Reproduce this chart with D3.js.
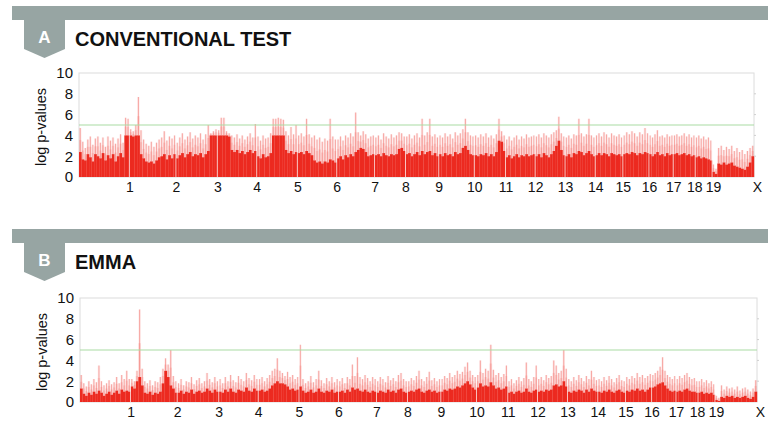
<!DOCTYPE html>
<html>
<head>
<meta charset="utf-8">
<script src="https://cdn.jsdelivr.net/npm/d3@7"></script>
<style>
  body { margin: 0; background: #fff; }
  svg { display: block; font-family: "Liberation Sans", Arial, sans-serif; }
</style>
</head>
<body>
<svg id="chart" width="768" height="421"></svg>
<script>
// chromosomes and their (approximate) lengths in Mb, read off label positions
const chromosomes = ["1","2","3","4","5","6","7","8","9","10","11","12","13","14","15","16","17","18","19","X"];
const chromLength = [197, 182, 162, 154, 159, 154, 148, 121, 130, 139, 122, 116, 117, 118, 108, 102, 95, 86, 66, 164];

const yTicks = [0, 2, 4, 6, 8, 10];
const threshold = 5;

// conventional test: highest -log p in each bin, and top of the dense block
const convPeak = [
  [4.7, 3.4, 2.8, 3.6, 3.9, 3.1, 3.7, 3.9, 3.3, 3.8, 2.9, 3.9, 3.5, 3.8, 3.2, 3.7, 4.1, 3.3, 5.7, 5.6],
  [4.6, 4.4, 5.0, 7.7, 4.5, 3.6, 3.2, 3.0, 3.4, 2.9, 3.3, 3.6, 3.8, 4.4, 3.5, 3.9, 3.7, 4.0],
  [3.3, 3.8, 4.2, 3.6, 3.9, 4.3, 3.7, 4.0, 3.8, 4.2, 3.6, 4.1, 5.0, 4.2, 4.4, 4.6],
  [4.5, 5.7, 5.7, 4.4, 4.2, 4.0, 3.8, 4.1, 3.7, 4.0, 3.6, 3.9, 4.2, 3.8, 5.1],
  [3.9, 3.5, 4.0, 3.7, 3.8, 4.2, 5.6, 5.6, 5.7, 5.6, 5.5, 4.4, 4.0, 4.8, 4.1, 5.0],
  [4.0, 4.2, 3.9, 5.6, 4.1, 3.8, 4.0, 3.6, 3.8, 3.4, 3.7, 3.5, 5.6, 3.9, 3.6],
  [3.6, 3.9, 3.5, 4.0, 3.8, 4.2, 3.9, 6.2, 4.3, 4.0, 4.4, 4.1, 3.7, 3.9, 4.0],
  [3.8, 4.0, 3.6, 4.2, 3.9, 3.7, 4.1, 3.8, 4.0, 4.3, 4.2, 3.9],
  [3.9, 4.1, 3.7, 4.0, 4.2, 3.8, 5.6, 4.0, 4.3, 5.6, 3.9, 4.1, 3.8],
  [4.0, 3.8, 4.2, 3.9, 4.1, 3.7, 4.3, 4.0, 4.2, 4.6, 5.6, 4.3, 4.0, 3.9],
  [4.0, 3.8, 4.1, 3.9, 4.2, 3.8, 4.0, 3.7, 4.1, 5.6, 4.4, 4.0],
  [3.6, 3.9, 3.5, 3.8, 4.0, 3.6, 3.9, 3.7, 4.1, 3.8, 3.9, 4.0],
  [3.9, 4.1, 3.8, 4.2, 4.0, 3.8, 4.1, 4.3, 4.5, 5.8, 4.2, 3.9],
  [3.8, 4.0, 3.7, 4.1, 4.0, 5.6, 4.2, 3.9, 4.1, 5.6, 4.0, 3.8],
  [4.0, 4.2, 3.9, 4.3, 4.1, 3.8, 4.2, 4.0, 3.9, 4.1, 3.8],
  [4.0, 4.3, 4.1, 4.4, 4.2, 3.9, 4.3, 4.1, 4.7, 4.2],
  [4.0, 3.8, 4.1, 4.5, 3.9, 4.0, 3.8, 4.1, 3.9, 4.0],
  [4.0, 4.1, 3.9, 4.0, 4.2, 3.9, 4.1, 3.8, 4.0],
  [3.8, 4.0, 3.7, 3.9, 3.6, 3.8, 3.5],
  [1.2, 0.8, 2.8, 3.0, 2.6, 2.9, 2.7, 3.0, 2.5, 2.8, 2.4, 2.6, 2.2, 2.5, 2.8, 3.0]
];
const convBase = [
  [2.4, 1.7, 1.6, 2.2, 1.9, 1.5, 2.2, 2.0, 1.8, 2.3, 1.6, 2.1, 1.8, 2.2, 1.5, 2.0, 2.3, 1.9, 4.0, 4.0],
  [4.0, 3.9, 4.0, 4.0, 2.2, 1.8, 1.5, 1.4, 1.5, 1.3, 1.6, 1.9, 2.0, 2.2, 1.7, 2.1, 1.8, 2.2],
  [1.8, 2.1, 2.3, 1.9, 2.2, 2.4, 2.0, 2.2, 2.1, 2.3, 1.9, 2.2, 2.5, 4.0, 4.0, 4.0],
  [4.0, 4.0, 4.0, 4.0, 3.9, 2.6, 2.4, 2.6, 2.3, 2.5, 2.2, 2.4, 2.6, 2.3, 2.5],
  [2.0, 1.8, 2.2, 1.9, 2.0, 2.3, 4.0, 4.0, 4.0, 4.0, 4.0, 2.6, 2.3, 2.5, 2.2, 2.4],
  [2.3, 2.4, 2.2, 2.5, 2.3, 2.1, 1.6, 1.4, 1.5, 1.3, 1.5, 1.4, 1.7, 1.6, 1.4],
  [1.8, 2.0, 1.7, 2.1, 1.9, 2.2, 2.0, 2.4, 2.6, 2.8, 2.7, 2.4, 2.0, 2.1, 2.2],
  [2.1, 2.2, 2.0, 2.3, 2.1, 2.0, 2.2, 2.1, 2.2, 2.7, 2.8, 2.5],
  [2.2, 2.3, 2.0, 2.2, 2.4, 2.1, 2.5, 2.2, 2.4, 2.5, 2.1, 2.3, 2.0],
  [2.2, 2.0, 2.3, 2.1, 2.2, 2.0, 2.4, 2.2, 2.3, 2.8, 3.0, 2.6, 2.2, 2.1],
  [2.1, 2.0, 2.2, 2.1, 2.3, 2.0, 2.2, 2.0, 2.4, 3.5, 3.4, 2.5],
  [1.9, 2.1, 1.8, 2.0, 2.2, 1.9, 2.1, 2.0, 2.2, 2.0, 2.1, 2.2],
  [2.0, 2.2, 1.9, 2.3, 2.1, 1.9, 2.2, 2.5, 3.0, 3.5, 2.6, 2.1],
  [2.0, 2.2, 1.9, 2.3, 2.2, 2.5, 2.4, 2.1, 2.3, 2.5, 2.2, 2.0],
  [2.1, 2.3, 2.1, 2.3, 2.2, 2.0, 2.3, 2.2, 2.1, 2.2, 2.0],
  [2.2, 2.3, 2.2, 2.4, 2.3, 2.1, 2.3, 2.2, 2.4, 2.3],
  [2.2, 2.0, 2.2, 2.4, 2.1, 2.2, 2.0, 2.3, 2.1, 2.2],
  [2.2, 2.3, 2.1, 2.2, 2.3, 2.1, 2.2, 2.0, 2.1],
  [1.9, 2.0, 1.8, 1.9, 1.8, 1.7, 1.6],
  [0.5, 0.3, 1.3, 1.2, 1.4, 1.2, 1.3, 1.4, 1.1, 1.0, 0.9, 0.8, 0.7, 1.0, 1.4, 2.0]
];

// EMMA
const emmaPeak = [
  [2.6, 1.8, 1.5, 2.0, 1.7, 2.2, 1.9, 3.5, 2.0, 1.6, 1.8, 2.1, 1.7, 1.9, 2.4, 1.8, 2.6, 2.2, 3.0, 2.2],
  [2.2, 2.0, 3.0, 8.9, 3.2, 2.0, 1.8, 2.1, 1.6, 2.0, 1.9, 2.4, 3.2, 4.2, 3.6, 5.0, 2.5, 2.0],
  [1.8, 2.2, 1.6, 2.0, 1.9, 2.4, 1.7, 2.1, 2.3, 1.8, 2.0, 2.8, 2.2, 1.9, 2.4, 2.0],
  [2.2, 1.8, 2.4, 2.0, 2.6, 2.1, 1.9, 2.5, 2.2, 2.0, 2.8, 2.3, 2.1, 2.6, 2.2],
  [2.2, 2.4, 2.0, 2.3, 2.6, 3.0, 3.2, 4.2, 3.0, 2.8, 2.5, 2.9, 2.4, 2.6, 2.2, 2.4],
  [5.5, 2.2, 1.8, 2.0, 2.5, 1.9, 2.2, 3.0, 2.1, 1.8, 2.3, 2.0, 2.4, 1.9, 2.2],
  [2.0, 2.3, 1.8, 2.4, 2.2, 3.6, 2.5, 4.3, 2.4, 2.2, 2.6, 2.3, 2.0, 2.4, 2.2],
  [2.0, 2.4, 2.2, 1.9, 2.5, 2.1, 2.3, 2.0, 2.6, 2.8, 2.2, 2.0],
  [2.0, 2.3, 2.1, 2.5, 3.0, 2.2, 2.0, 2.4, 2.9, 2.1, 2.3, 2.0, 2.2],
  [2.2, 2.5, 2.3, 2.8, 2.4, 2.6, 3.0, 2.7, 2.9, 3.4, 3.8, 3.0, 2.6, 2.4],
  [2.6, 4.0, 2.8, 3.2, 3.0, 5.5, 3.1, 2.6, 2.8, 2.4, 2.7, 3.5],
  [2.0, 2.2, 1.8, 2.1, 2.4, 2.0, 2.3, 3.8, 2.2, 2.0, 2.4, 3.5],
  [2.2, 2.4, 2.1, 2.6, 2.3, 2.5, 4.0, 3.5, 2.8, 3.0, 5.0, 3.2],
  [2.2, 2.0, 2.4, 2.1, 2.6, 2.3, 2.0, 2.5, 2.2, 3.0, 2.4, 2.1],
  [2.2, 2.0, 2.4, 2.1, 2.5, 2.2, 1.9, 2.3, 2.6, 2.1, 2.0],
  [2.4, 2.2, 2.5, 2.3, 2.8, 2.4, 2.6, 2.3, 2.5, 2.7],
  [2.6, 2.8, 3.0, 3.4, 4.3, 3.0, 2.6, 2.4, 2.2, 2.5],
  [2.2, 2.5, 2.3, 2.6, 2.8, 2.4, 2.2, 2.3, 2.0],
  [2.0, 2.2, 1.9, 2.1, 1.8, 2.0, 1.7],
  [0.6, 0.4, 1.6, 1.2, 1.5, 1.3, 1.4, 1.2, 1.5, 1.1, 1.3, 1.4, 1.2, 1.0, 1.3, 2.1]
];
const emmaBase = [
  [1.3, 0.8, 0.6, 0.9, 0.7, 1.0, 0.8, 1.1, 0.9, 0.6, 0.8, 1.0, 0.7, 0.9, 1.1, 0.8, 1.2, 1.0, 1.1, 1.0],
  [1.5, 1.3, 2.0, 2.4, 1.6, 0.9, 0.8, 1.0, 0.7, 0.9, 0.8, 1.0, 1.8, 3.0, 2.4, 1.6, 1.3, 0.9],
  [0.9, 1.1, 0.8, 1.0, 0.9, 1.2, 0.8, 1.0, 1.1, 0.9, 1.0, 1.3, 1.1, 0.9, 1.2, 1.0],
  [1.0, 0.9, 1.2, 1.0, 1.3, 1.0, 0.9, 1.2, 1.1, 1.0, 1.4, 1.1, 1.0, 1.3, 1.1],
  [1.1, 1.2, 1.0, 1.1, 1.3, 1.6, 1.8, 2.0, 1.8, 1.8, 1.7, 1.5, 1.2, 1.3, 1.1, 1.2],
  [1.5, 1.1, 0.9, 1.0, 1.2, 0.9, 1.0, 1.3, 1.0, 0.9, 1.1, 1.0, 1.2, 0.9, 1.0],
  [1.0, 1.1, 0.9, 1.2, 1.0, 1.4, 1.2, 1.3, 1.1, 1.0, 1.2, 1.0, 0.9, 1.1, 1.0],
  [0.9, 1.1, 1.0, 0.9, 1.2, 1.0, 1.1, 0.9, 1.2, 1.3, 1.0, 0.9],
  [1.0, 1.1, 1.0, 1.2, 1.3, 1.0, 0.9, 1.1, 1.2, 1.0, 1.1, 0.9, 1.0],
  [1.0, 1.2, 1.1, 1.3, 1.2, 1.3, 1.5, 1.4, 1.6, 1.8, 2.0, 1.7, 1.4, 1.2],
  [1.4, 1.8, 1.5, 1.6, 1.5, 1.9, 1.6, 1.3, 1.4, 1.2, 1.3, 1.5],
  [0.9, 1.0, 0.8, 1.0, 1.1, 0.9, 1.0, 1.3, 1.0, 0.9, 1.1, 1.2],
  [1.0, 1.1, 1.0, 1.2, 1.1, 1.2, 1.6, 1.7, 1.5, 1.6, 2.0, 1.5],
  [1.0, 0.9, 1.1, 1.0, 1.2, 1.1, 0.9, 1.2, 1.0, 1.3, 1.1, 1.0],
  [1.0, 0.9, 1.1, 1.0, 1.2, 1.0, 0.9, 1.1, 1.2, 1.0, 0.9],
  [1.1, 1.0, 1.2, 1.1, 1.3, 1.1, 1.2, 1.0, 1.2, 1.4],
  [1.4, 1.5, 1.7, 1.8, 1.9, 1.6, 1.3, 1.1, 1.0, 1.1],
  [1.0, 1.1, 1.0, 1.2, 1.3, 1.1, 1.0, 1.0, 0.9],
  [0.9, 1.0, 0.8, 0.9, 0.8, 0.9, 0.7],
  [0.2, 0.1, 0.5, 0.4, 0.6, 0.5, 0.6, 0.4, 0.5, 0.4, 0.5, 0.6, 0.4, 0.3, 0.5, 1.0]
];

const svg = d3.select("#chart");
const red = "#ec2a20";
const headColor = "#97a5a3";

// cumulative offsets of each chromosome
const offsets = [];
chromLength.reduce((acc, len, i) => { offsets[i] = acc; return acc + len; }, 0);
const genomeLength = d3.sum(chromLength);

const dibujarPanel = (cfg) => {
  const g = svg.append("g");

  // header bar + tab
  g.append("rect")
    .attr("x", 12).attr("y", cfg.barTop)
    .attr("width", 756).attr("height", 14)
    .attr("fill", headColor);
  const t = cfg.barTop + 14;
  g.append("path")
    .attr("d", `M24,${t} L65,${t} L65,${t + 29} L44.5,${t + 38} L24,${t + 29} Z`)
    .attr("fill", headColor);
  g.append("text")
    .attr("x", 44.5).attr("y", t + 23)
    .attr("text-anchor", "middle")
    .attr("fill", "#fff")
    .style("font-weight", "bold").style("font-size", "17px")
    .text(cfg.letter);
  g.append("text")
    .attr("x", 75).attr("y", t + 25.5)
    .style("font-weight", "bold").style("font-size", "20px")
    .attr("fill", "#111")
    .text(cfg.title);

  const x = d3.scaleLinear().domain([0, genomeLength]).range([cfg.left, cfg.right]);
  const y = d3.scaleLinear().domain([0, 10]).range([cfg.bottom, cfg.top]);

  // frame
  g.append("rect")
    .attr("x", cfg.left).attr("y", cfg.top)
    .attr("width", cfg.right - cfg.left).attr("height", cfg.bottom - cfg.top)
    .attr("fill", "none").attr("stroke", "#dcdcdc").attr("stroke-width", 1);

  // bins
  const bins = [];
  chromLength.forEach((len, i) => {
    const peaks = cfg.peak[i], base = cfg.base[i];
    const n = peaks.length;
    peaks.forEach((p, j) => {
      bins.push({
        x0: offsets[i] + len * j / n,
        x1: offsets[i] + len * (j + 1) / n,
        peak: p,
        base: base[j]
      });
    });
  });

  const marks = g.append("g");
  // faint haze between block and peak
  marks.selectAll("rect.spike")
    .data(bins)
    .enter().append("rect")
    .attr("class", "spike")
    .attr("x", d => x(d.x0))
    .attr("width", d => x(d.x1) - x(d.x0))
    .attr("y", d => y(d.peak))
    .attr("height", d => y(d.base) - y(d.peak))
    .attr("fill", red).attr("opacity", 0.08);
  marks.selectAll("rect.haze")
    .data(bins)
    .enter().append("rect")
    .attr("class", "haze")
    .attr("x", d => x(d.x0))
    .attr("width", d => x(d.x1) - x(d.x0))
    .attr("y", d => y((d.peak + d.base) / 2))
    .attr("height", d => y(d.base) - y((d.peak + d.base) / 2))
    .attr("fill", red).attr("opacity", 0.12);

  // the spike itself
  marks.selectAll("line.spike")
    .data(bins)
    .enter().append("line")
    .attr("class", "spike")
    .attr("x1", d => x((d.x0 + d.x1) / 2))
    .attr("x2", d => x((d.x0 + d.x1) / 2))
    .attr("y1", d => y(d.base))
    .attr("y2", d => y(d.peak))
    .attr("stroke", red).attr("stroke-width", 1.1).attr("opacity", 0.35);

  marks.selectAll("rect.base")
    .data(bins)
    .enter().append("rect")
    .attr("class", "base")
    .attr("x", d => x(d.x0))
    .attr("width", d => x(d.x1) - x(d.x0) + 0.2)
    .attr("y", d => y(d.base))
    .attr("height", d => y(0) - y(d.base))
    .attr("fill", red);

  // thin white gaps between chromosomes
  marks.selectAll("line.gap")
    .data(offsets.slice(1))
    .enter().append("line")
    .attr("class", "gap")
    .attr("x1", d => x(d)).attr("x2", d => x(d))
    .attr("y1", y(0)).attr("y2", y(6))
    .attr("stroke", "#fff").attr("stroke-width", 0.8).attr("opacity", 0.85);

  // threshold line
  g.append("line")
    .attr("x1", cfg.left).attr("x2", cfg.right)
    .attr("y1", y(threshold)).attr("y2", y(threshold))
    .attr("stroke", "#a9dba3").attr("stroke-width", 1);

  // right-side tick marks
  g.selectAll("line.rtick")
    .data(yTicks.slice(1, -1))
    .enter().append("line")
    .attr("x1", cfg.right).attr("x2", cfg.right + 2)
    .attr("y1", d => y(d)).attr("y2", d => y(d))
    .attr("stroke", "#cfcfcf");

  // y axis
  const yAxis = g.append("g")
    .attr("transform", `translate(${cfg.left},0)`)
    .call(d3.axisLeft(y).tickValues(yTicks).tickSize(0).tickPadding(6));
  yAxis.select(".domain").remove();
  yAxis.selectAll("text")
    .style("font-size", "15px").style("font-family", "Liberation Sans, Arial, sans-serif")
    .attr("fill", "#111");

  g.append("text")
    .attr("transform", `translate(${cfg.left - 33},${(cfg.top + cfg.bottom) / 2 + 2}) rotate(-90)`)
    .attr("text-anchor", "middle")
    .style("font-size", "14.5px")
    .attr("fill", "#111")
    .text("log p-values");

  // x axis: labels at chromosome ends
  const ends = chromLength.map((len, i) => offsets[i] + len);
  const xAxis = g.append("g")
    .attr("transform", `translate(0,${cfg.bottom})`)
    .call(d3.axisBottom(x).tickValues(ends).tickFormat((d, i) => chromosomes[i]).tickSize(0).tickPadding(5));
  xAxis.select(".domain").remove();
  xAxis.selectAll("text")
    .style("font-size", "14px").style("font-family", "Liberation Sans, Arial, sans-serif")
    .attr("fill", "#111")
    .attr("dx", (d, i) => chromosomes[i] === "X" ? 3 : (chromosomes[i] === "18" ? -1 : (chromosomes[i] === "19" ? 1 : 0)));
};

dibujarPanel({
  barTop: 6, letter: "A", title: "CONVENTIONAL TEST",
  left: 79, right: 754, top: 73, bottom: 177,
  peak: convPeak, base: convBase
});

dibujarPanel({
  barTop: 229, letter: "B", title: "EMMA",
  left: 80, right: 757, top: 298, bottom: 402,
  peak: emmaPeak, base: emmaBase
});
</script>
</body>
</html>
